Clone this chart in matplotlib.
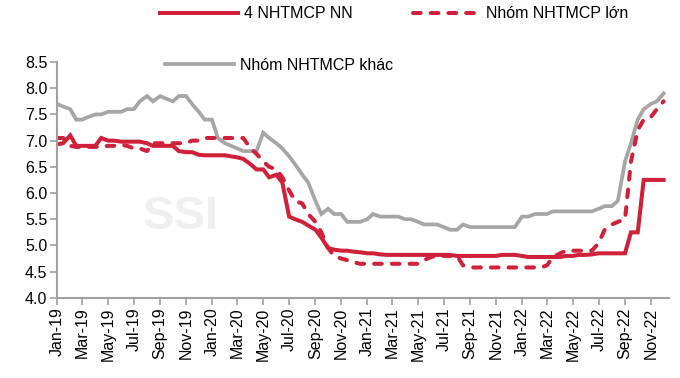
import matplotlib
matplotlib.use('Agg')
import matplotlib.pyplot as plt
import matplotlib.dates as mdates
from matplotlib.lines import Line2D
import pandas as pd

plt.rcParams['font.family'] = ['Liberation Sans', 'DejaVu Sans']

# semi-monthly observations, Jan-19 .. Dec-22
dates = pd.date_range('2019-01-01', periods=95, freq='SMS')

nn = [6.93, 6.95, 7.10, 6.90, 6.90, 6.90, 6.90, 7.05, 7.00, 7.00,
      6.98, 6.98, 6.98, 6.98, 6.95, 6.90, 6.90, 6.90, 6.90, 6.80,
      6.78, 6.78, 6.73, 6.72, 6.72, 6.72, 6.72, 6.70, 6.68, 6.65,
      6.55, 6.45, 6.45, 6.30, 6.35, 6.20, 5.55, 5.50, 5.45, 5.38,
      5.30, 5.15, 4.95, 4.92, 4.90, 4.90, 4.88, 4.87, 4.85, 4.85,
      4.83, 4.82, 4.82, 4.82, 4.82, 4.82, 4.82, 4.82, 4.82, 4.82,
      4.82, 4.82, 4.80, 4.80, 4.80, 4.80, 4.80, 4.80, 4.80, 4.82,
      4.82, 4.82, 4.80, 4.78, 4.78, 4.78, 4.78, 4.78, 4.78, 4.80,
      4.80, 4.82, 4.82, 4.83, 4.85, 4.85, 4.85, 4.85, 4.85, 5.25,
      5.25, 6.25, 6.25, 6.25, 6.25]

lon = [7.05, 7.05, 6.90, 6.88, 6.88, 6.88, 6.88, 6.88, 6.90, 6.90,
       6.92, 6.90, 6.85, 6.85, 6.80, 6.95, 6.95, 6.95, 6.95, 6.95,
       6.95, 7.00, 7.00, 7.05, 7.05, 7.05, 7.05, 7.05, 7.05, 7.05,
       6.85, 6.75, 6.60, 6.50, 6.45, 6.30, 6.05, 5.85, 5.80, 5.60,
       5.45, 5.25, 4.95, 4.80, 4.75, 4.72, 4.68, 4.65, 4.65, 4.65,
       4.65, 4.65, 4.65, 4.65, 4.65, 4.65, 4.65, 4.72, 4.78, 4.80,
       4.80, 4.80, 4.80, 4.62, 4.58, 4.58, 4.58, 4.58, 4.58, 4.58,
       4.58, 4.58, 4.58, 4.58, 4.58, 4.58, 4.62, 4.78, 4.85, 4.90,
       4.90, 4.90, 4.90, 4.90, 5.05, 5.30, 5.40, 5.45, 5.50, 6.60,
       7.20, 7.40, 7.45, 7.60, 7.75]

khac = [7.70, 7.65, 7.60, 7.40, 7.40, 7.45, 7.50, 7.50, 7.55, 7.55,
        7.55, 7.60, 7.60, 7.75, 7.85, 7.75, 7.85, 7.80, 7.75, 7.85,
        7.85, 7.70, 7.55, 7.40, 7.40, 7.05, 6.95, 6.90, 6.85, 6.80,
        6.80, 6.80, 7.15, 7.05, 6.95, 6.85, 6.70, 6.55, 6.35, 6.20,
        5.85, 5.60, 5.70, 5.60, 5.60, 5.45, 5.45, 5.45, 5.50, 5.60,
        5.55, 5.55, 5.55, 5.55, 5.50, 5.50, 5.45, 5.40, 5.40, 5.40,
        5.35, 5.30, 5.30, 5.40, 5.35, 5.35, 5.35, 5.35, 5.35, 5.35,
        5.35, 5.35, 5.55, 5.55, 5.60, 5.60, 5.60, 5.65, 5.65, 5.65,
        5.65, 5.65, 5.65, 5.65, 5.70, 5.75, 5.75, 5.85, 6.60, 6.95,
        7.40, 7.60, 7.70, 7.75, 7.90]

labels = ['4 NHTMCP NN', 'Nhóm NHTMCP lớn', 'Nhóm NHTMCP khác']

red = '#D0203A'
grey = '#A6A6A6'
axcol = '#A0A0A0'
dash = (0, (1.9, 2.5))

fig = plt.figure(figsize=(6.8, 3.78), dpi=100)
ax = fig.add_axes([0.084, 0.212, 0.90, 0.624])

ax.text(pd.Timestamp('2019-10-20'), 5.55, 'SSI', fontsize=34, fontweight='bold',
        color='#EFEFEF', ha='center', va='center', zorder=0)

ax.plot(dates, khac, color=grey, lw=2.7, solid_joinstyle='miter')
ax.plot(dates, nn, color=red, lw=2.9, solid_joinstyle='miter')
ax.plot(dates, lon, color=red, lw=2.9, ls=dash, dash_capstyle='round')

ax.set_ylim(4.0, 8.5)
ax.set_yticks([4.0, 4.5, 5.0, 5.5, 6.0, 6.5, 7.0, 7.5, 8.0, 8.5])
ax.yaxis.set_major_formatter(matplotlib.ticker.FormatStrFormatter('%.1f'))
ax.set_xlim(pd.Timestamp('2019-01-01'), pd.Timestamp('2022-12-14'))
ax.xaxis.set_major_locator(mdates.MonthLocator(bymonth=[1, 3, 5, 7, 9, 11]))
ax.xaxis.set_major_formatter(mdates.DateFormatter('%b-%y'))
plt.setp(ax.get_xticklabels(), rotation=90)

for s in ['top', 'right']:
    ax.spines[s].set_visible(False)
for s in ['left', 'bottom']:
    ax.spines[s].set_color(axcol)
    ax.spines[s].set_linewidth(1.5)
ax.tick_params(axis='both', colors=axcol, labelcolor='black', labelsize=11.5,
               length=5, width=1.2, pad=2)

h1 = Line2D([], [], color=red, lw=2.9)
h2 = Line2D([], [], color=red, lw=2.9, ls=dash, dash_capstyle='round')
h3 = Line2D([], [], color=grey, lw=2.7)
leg_kw = dict(loc='center left', frameon=False, fontsize=11.5, borderpad=0,
              borderaxespad=0, handletextpad=0.35)
fig.legend([h1], labels[:1], bbox_to_anchor=(0.235, 0.963), handlelength=4.9, **leg_kw)
fig.legend([h2], labels[1:2], bbox_to_anchor=(0.608, 0.963), handlelength=4.2, **leg_kw)
fig.legend([h3], labels[2:], bbox_to_anchor=(0.243, 0.828), handlelength=4.3, **leg_kw)

fig.savefig('out.png', dpi=100)
